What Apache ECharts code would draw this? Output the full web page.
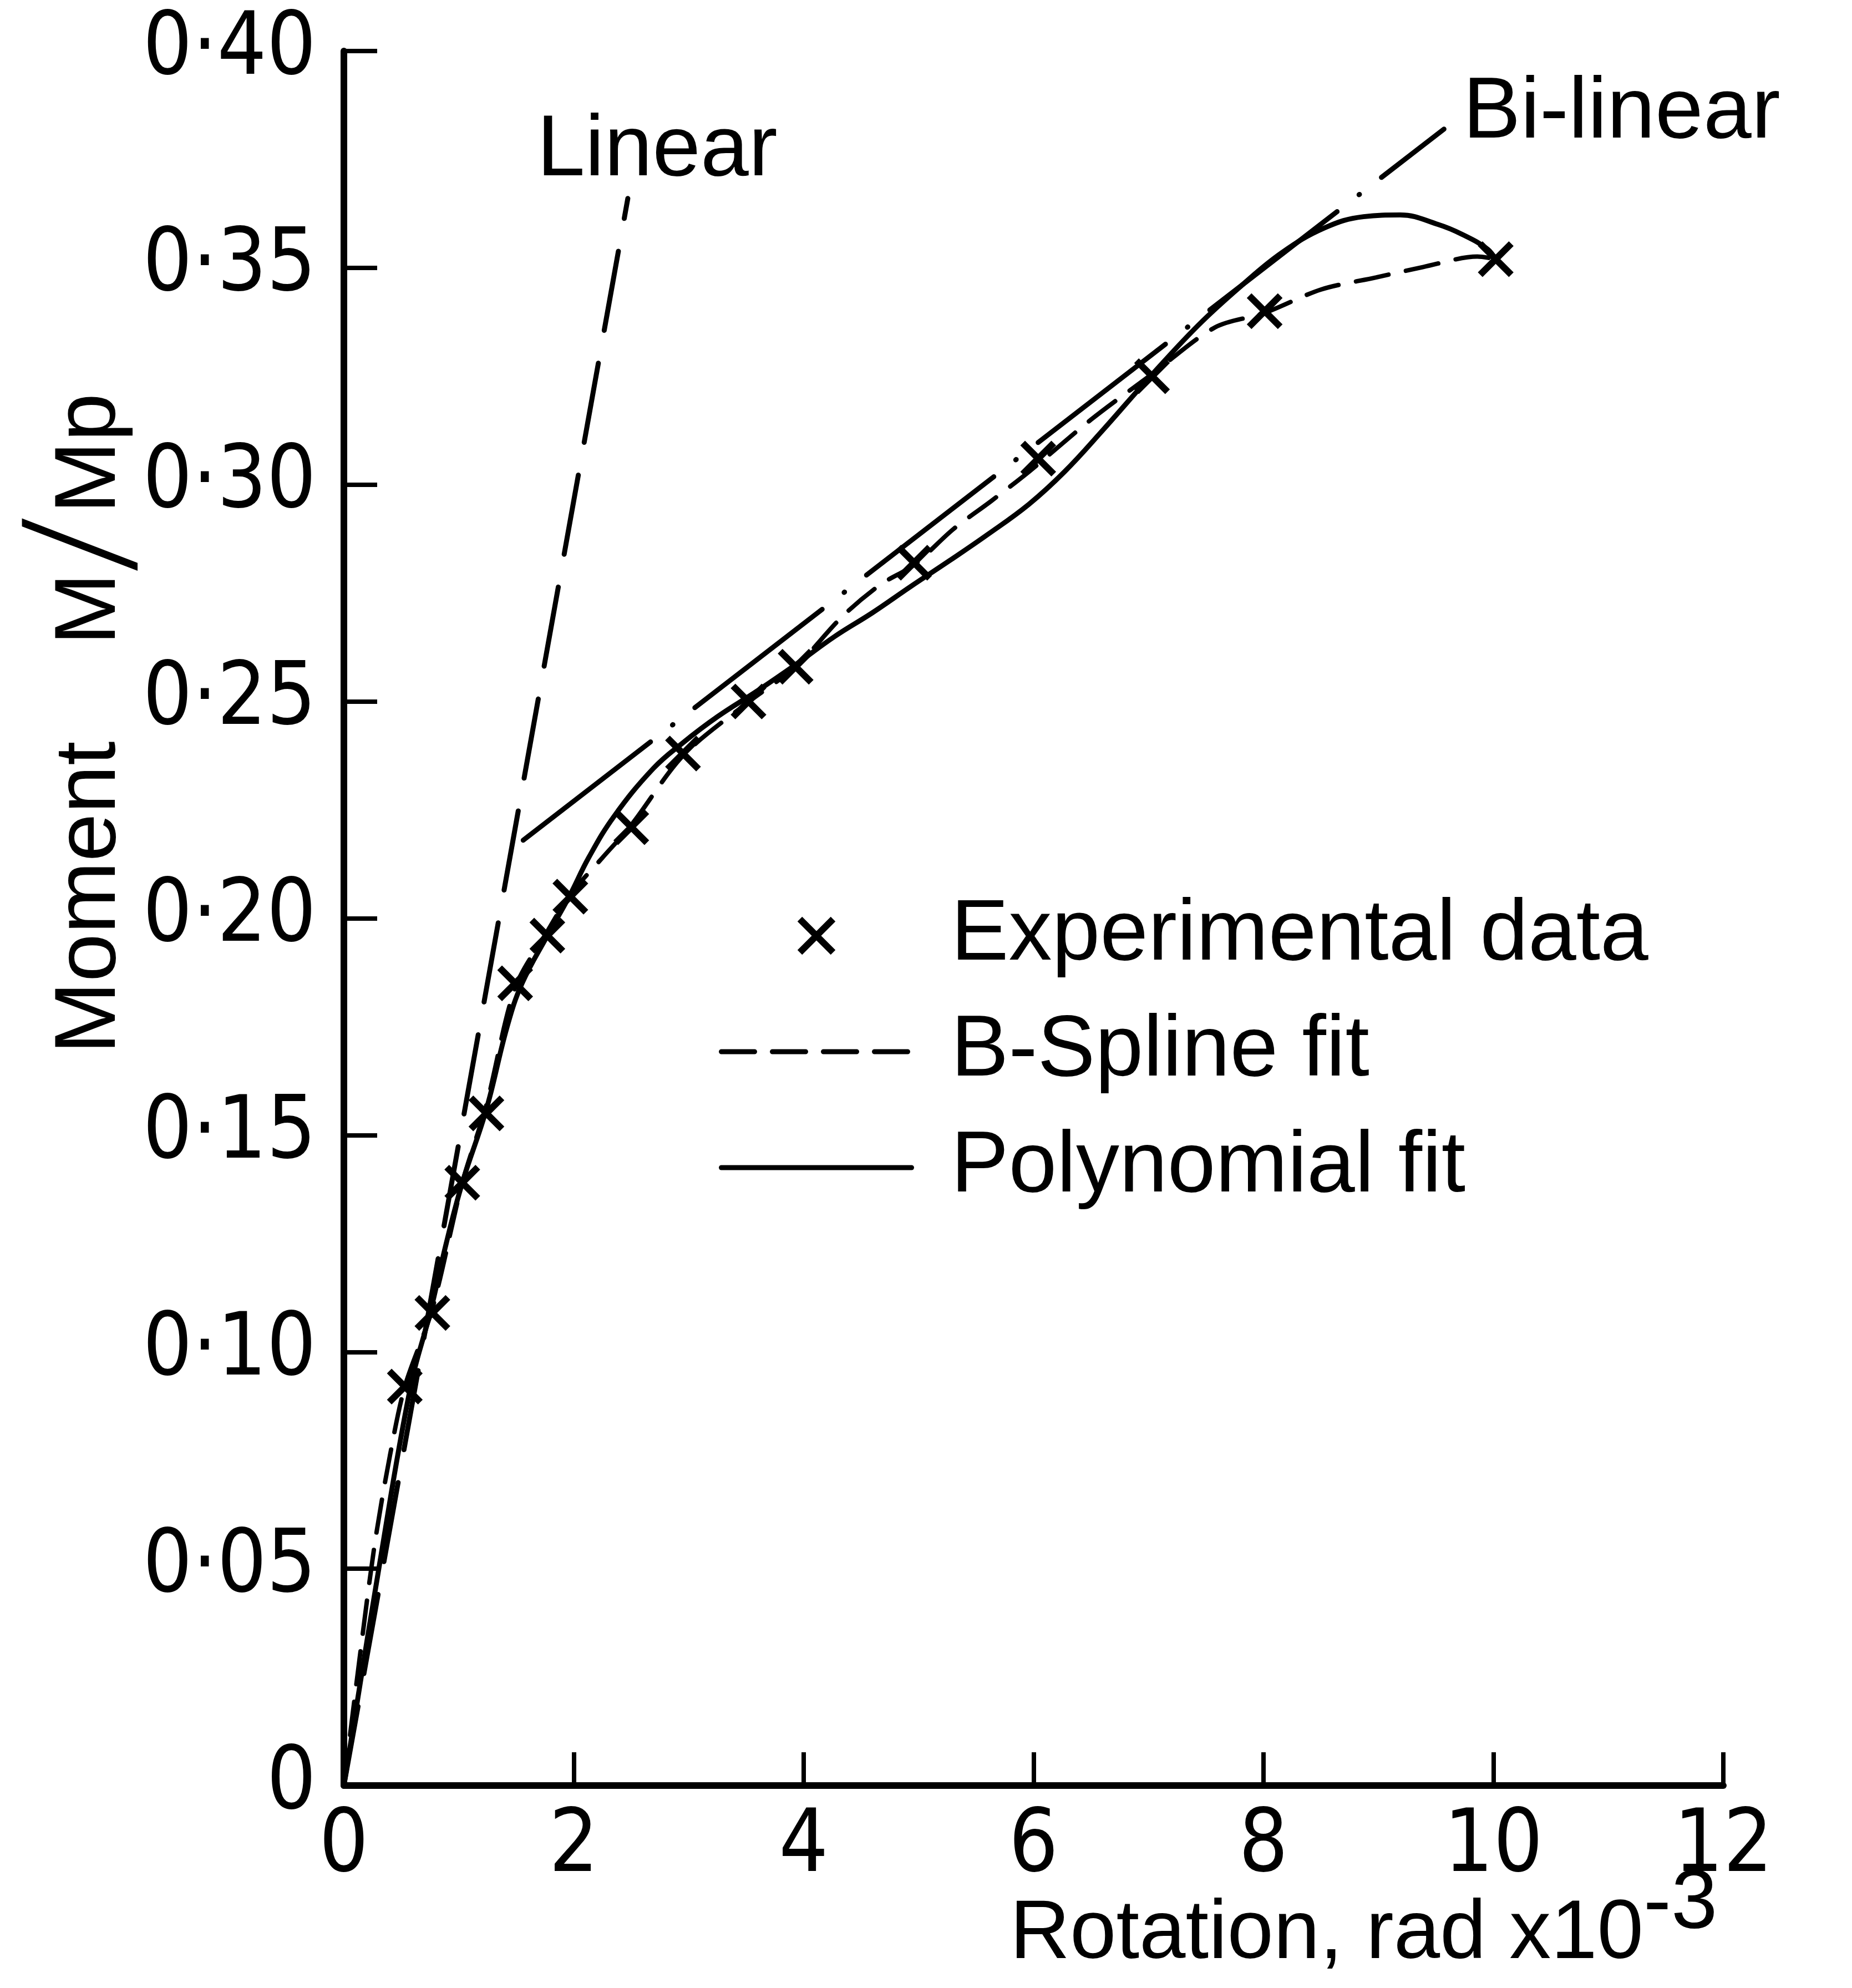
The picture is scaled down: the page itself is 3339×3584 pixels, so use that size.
<!DOCTYPE html>
<html>
<head>
<meta charset="utf-8">
<script src="https://cdn.jsdelivr.net/npm/echarts@6/dist/echarts.min.js"></script>
<style>
html,body{margin:0;padding:0;background:#fff;}
#c{width:3339px;height:3584px;}
</style>
</head>
<body>
<div id="c"></div>
<script>
// ---- data ----
const xTickLabels = ['0', '2', '4', '6', '8', '10', '12'];
const yTickLabels = ['0', '0·05', '0·10', '0·15', '0·20', '0·25', '0·30', '0·35', '0·40'];

const experimentalData = [
  [0.53, 0.092], [0.77, 0.109], [1.03, 0.139], [1.24, 0.155], [1.49, 0.185],
  [1.77, 0.196], [1.97, 0.205], [2.50, 0.221], [2.95, 0.238], [3.52, 0.250],
  [3.93, 0.258], [4.96, 0.282], [6.04, 0.306], [7.03, 0.325], [8.01, 0.340],
  [10.02, 0.352]
];

const bSplineFit = [
  [0, 0], [0.14, 0.030], [0.27, 0.056], [0.40, 0.076], [0.53, 0.092],
  [0.77, 0.110], [1.03, 0.139], [1.24, 0.157], [1.49, 0.184], [1.77, 0.197],
  [1.97, 0.2055], [2.25, 0.214], [2.50, 0.2215], [2.95, 0.2375], [3.50, 0.2495],
  [3.93, 0.258], [4.34, 0.2697], [4.67, 0.277], [4.96, 0.2815], [5.30, 0.2897],
  [5.63, 0.2962], [5.96, 0.303], [6.50, 0.315], [7.03, 0.3255], [7.58, 0.3363],
  [8.01, 0.3396], [8.50, 0.345], [8.98, 0.3478], [9.39, 0.3502], [9.86, 0.3526],
  [10.02, 0.352]
];

const polynomialFit = [
  [0, 0], [0.31, 0.051], [0.58, 0.092], [0.75, 0.109], [0.89, 0.125],
  [1.03, 0.139], [1.24, 0.156], [1.42, 0.175], [1.55, 0.185], [1.77, 0.196],
  [1.96, 0.205], [2.13, 0.214], [2.35, 0.2235], [2.69, 0.2345], [2.95, 0.2405],
  [3.25, 0.2465], [3.60, 0.2525], [3.93, 0.2585], [4.27, 0.265], [4.60, 0.2705],
  [4.93, 0.2765], [5.27, 0.2825], [5.60, 0.2885], [5.96, 0.2955], [6.27, 0.303],
  [6.60, 0.3125], [7.00, 0.3245], [7.43, 0.3367], [7.80, 0.3457], [8.16, 0.3535],
  [8.53, 0.3592], [8.87, 0.3618], [9.19, 0.3622], [9.52, 0.3600], [9.73, 0.3577],
  [9.95, 0.3543], [10.02, 0.3518]
];

const linearLine = [[0, 0], [2.47, 0.366]];
const biLinearLine = [[1.56, 0.218], [9.57, 0.382]];

// ---- chart ----
const FONT = '"Liberation Sans", Arial, sans-serif';
const NARROW = '"Liberation Sans Narrow", "DejaVu Sans Condensed", "Liberation Sans", sans-serif';
const BLACK = '#000';
const HIDDEN_DOT = {color: 'rgba(0,0,0,0)', borderColor: 'rgba(0,0,0,0)', borderWidth: 0, opacity: 0};

const chart = echarts.init(document.getElementById('c'), null, {renderer: 'canvas'});

chart.setOption({
  animation: false,
  backgroundColor: '#fff',
  grid: {left: 620, right: 232, top: 92, bottom: 365, containLabel: false, outerBoundsMode: 'none'},
  xAxis: {
    type: 'value', min: 0, max: 12, interval: 2,
    axisLine: {show: true, onZero: false, lineStyle: {color: BLACK, width: 12, cap: 'round'}},
    axisTick: {show: true, inside: true, length: 60, lineStyle: {color: BLACK, width: 8}},
    axisLabel: {
      margin: 35, fontFamily: NARROW, fontSize: 156, color: BLACK,
      formatter: v => xTickLabels[Math.round(v / 2)]
    },
    splitLine: {show: false},
    name: '{m|Rotation, rad x10}{s|-3}',
    nameLocation: 'middle', nameGap: 141, nameMoveOverlap: false,
    nameTextStyle: {
      padding: [0, 0, 0, 1190],
      rich: {
        m: {fontFamily: FONT, fontSize: 150, lineHeight: 204, verticalAlign: 'bottom', color: BLACK},
        s: {fontFamily: FONT, fontSize: 150, lineHeight: 92, verticalAlign: 'top', color: BLACK}
      }
    }
  },
  yAxis: {
    type: 'value', min: 0, max: 0.4, interval: 0.05,
    axisLine: {show: true, onZero: false, lineStyle: {color: BLACK, width: 12, cap: 'round'}},
    axisTick: {show: true, inside: true, length: 60, lineStyle: {color: BLACK, width: 8}},
    axisLabel: {
      margin: 50, fontFamily: NARROW, fontSize: 156, color: BLACK,
      formatter: v => yTickLabels[Math.round(v / 0.05)]
    },
    splitLine: {show: false},
    name: '{a|Moment    M}{s|/}{a|Mp}',
    nameLocation: 'middle', nameRotate: 90, nameGap: 371, nameMoveOverlap: false,
    nameTextStyle: {
      padding: [0, 0, 0, 702],
      rich: {
        a: {fontFamily: FONT, fontSize: 156, lineHeight: 170, color: BLACK},
        s: {fontFamily: 'Roboto, "Liberation Sans", sans-serif', fontWeight: 300, fontSize: 270, lineHeight: 170, color: BLACK}
      }
    }
  },
  legend: {
    orient: 'vertical', left: 1291, top: 1597,
    itemWidth: 343, itemHeight: 60, itemGap: 39,
    selectedMode: false,
    textStyle: {fontFamily: FONT, fontSize: 156, lineHeight: 170, color: BLACK, padding: [0, 0, 0, 66]},
    lineStyle: {width: 9},
    itemStyle: {borderWidth: 12},
    data: [
      {name: 'Experimental data'},
      {name: 'B-Spline fit', itemStyle: HIDDEN_DOT},
      {name: 'Polynomial fit', itemStyle: HIDDEN_DOT}
    ]
  },
  series: [
    {
      name: 'Linear', type: 'line', data: linearLine, symbol: 'none', silent: true,
      lineStyle: {color: BLACK, width: 9, type: [145, 60], cap: 'round'},
      endLabel: {
        show: true, formatter: '{a}', distance: 0, align: 'center', verticalAlign: 'bottom',
        offset: [53, -7], fontFamily: FONT, fontSize: 156, color: BLACK
      }
    },
    {
      name: 'Bi-linear', type: 'line', data: biLinearLine, symbol: 'none', silent: true,
      lineStyle: {color: BLACK, width: 9, type: [290, 50, 1, 50], cap: 'round'},
      endLabel: {
        show: true, formatter: '{a}', distance: 0, align: 'left', verticalAlign: 'middle',
        offset: [34, -28], fontFamily: FONT, fontSize: 156, color: BLACK
      }
    },
    {
      name: 'B-Spline fit', type: 'line', data: bSplineFit, symbol: 'none', smooth: 0.3,
      lineStyle: {color: BLACK, width: 8, type: [60, 32], cap: 'round'},
      itemStyle: {color: BLACK}
    },
    {
      name: 'Polynomial fit', type: 'line', data: polynomialFit, symbol: 'none', smooth: 0.4,
      lineStyle: {color: BLACK, width: 9, cap: 'round'},
      itemStyle: {color: BLACK}
    },
    {
      name: 'Experimental data', type: 'scatter', data: experimentalData, z: 5,
      symbol: 'path://M0,0L20,20M20,0L0,20', symbolSize: 56,
      itemStyle: {color: 'rgba(0,0,0,0)', borderColor: BLACK, borderWidth: 12, opacity: 1}
    }
  ]
});
</script>
</body>
</html>
